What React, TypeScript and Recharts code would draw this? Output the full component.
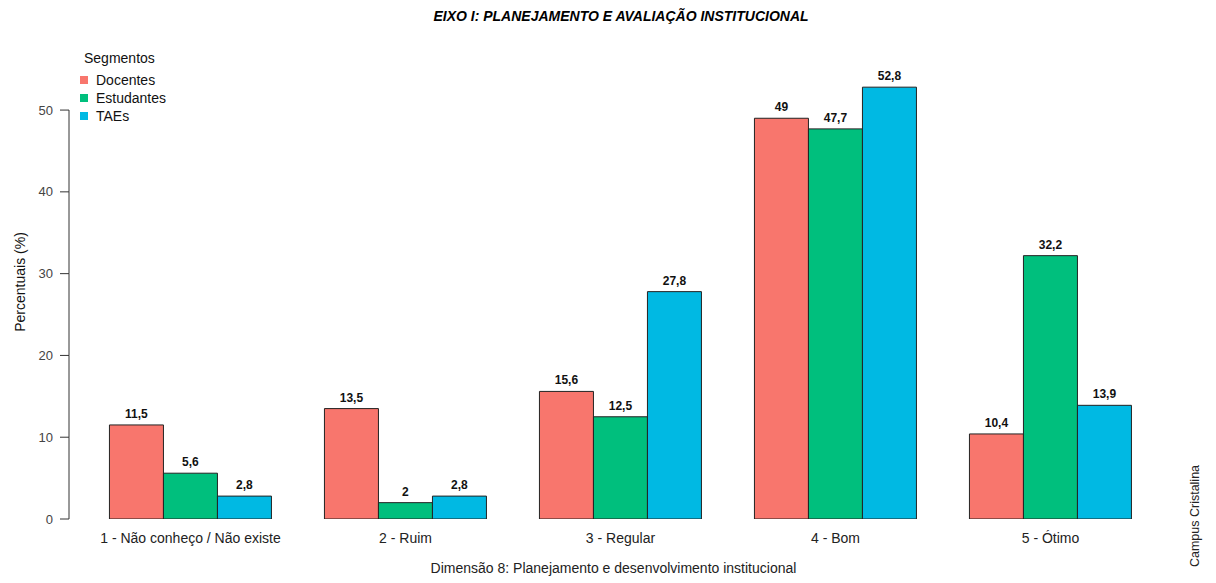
import { BarChart, Bar, XAxis, YAxis, LabelList, Legend } from "recharts";

const categories = [
  "1 - Não conheço / Não existe",
  "2 - Ruim",
  "3 - Regular",
  "4 - Bom",
  "5 - Ótimo",
];
const docentes = [11.5, 13.5, 15.6, 49, 10.4];
const estudantes = [5.6, 2, 12.5, 47.7, 32.2];
const taes = [2.8, 2.8, 27.8, 52.8, 13.9];
const yTicks = [0, 10, 20, 30, 40, 50];

const SERIES = [
  { key: "docentes", name: "Docentes", color: "#F8766D" },
  { key: "estudantes", name: "Estudantes", color: "#00BF7D" },
  { key: "taes", name: "TAEs", color: "#00B9E3" },
];

const data = categories.map((c, i) => ({
  categoria: c,
  docentes: docentes[i],
  estudantes: estudantes[i],
  taes: taes[i],
}));

const W = 1216;
const H = 583;
const TOP = 61;
const BOTTOM = 519;
const AXIS_X = 69;
const Y_MAX = 56;
const STEP_PX = ((BOTTOM - TOP) * 10) / Y_MAX;
const FONT = "'Liberation Sans', Arial, sans-serif";

const fmt = (v: any) => String(v).replace(".", ",");

// R-style axis: line only spans from the first to the last tick
function YTick(props: any) {
  const { x, y, payload } = props;
  return (
    <g>
      <text x={x} y={y} dy="0.35em" textAnchor="end" fontSize={13} fill="#444" fontFamily={FONT}>
        {payload.value}
      </text>
      {payload.value < 50 && (
        <line x1={AXIS_X} x2={AXIS_X} y1={y} y2={y - STEP_PX} stroke="#333" />
      )}
    </g>
  );
}

function YTitle(props: any) {
  const { viewBox } = props;
  const cx = 20;
  const cy = viewBox.y + viewBox.height / 2 - 8;
  return (
    <text
      x={cx}
      y={cy}
      dy="0.35em"
      textAnchor="middle"
      transform={`rotate(-90, ${cx}, ${cy})`}
      fontSize={14}
      fill="#111"
      fontFamily={FONT}
    >
      Percentuais (%)
    </text>
  );
}

function SegLegend() {
  return (
    <div style={{ fontFamily: FONT, fontSize: 14, color: "#111", lineHeight: "18px" }}>
      <div style={{ marginLeft: 4, marginBottom: 4 }}>Segmentos</div>
      {SERIES.map((s) => (
        <div key={s.key} style={{ display: "flex", alignItems: "center" }}>
          <span style={{ width: 8, height: 8, background: s.color, display: "inline-block", marginRight: 8 }} />
          {s.name}
        </div>
      ))}
    </div>
  );
}

export default function App() {
  return (
    <div style={{ position: "absolute", left: 0, top: 0, width: W, height: H, background: "#fff", fontFamily: FONT }}>
      <div
        style={{
          position: "absolute", top: 8, left: 0, width: 1242, textAlign: "center",
          fontSize: 14, fontWeight: "bold", fontStyle: "italic", color: "#000",
        }}
      >
        EIXO I: PLANEJAMENTO E AVALIAÇÃO INSTITUCIONAL
      </div>
      <div
        style={{
          position: "absolute", left: 1195, top: 516, fontSize: 12.5, color: "#222",
          transform: "translate(-50%, -50%) rotate(-90deg)", whiteSpace: "nowrap",
        }}
      >
        Campus Cristalina
      </div>
      <BarChart
        width={W}
        height={H}
        data={data}
        margin={{ top: TOP, right: W - 1158, bottom: H - BOTTOM - 30, left: 0 }}
        barCategoryGap="12.3%"
        barGap={0}
      >
        <XAxis
          dataKey="categoria"
          height={30}
          axisLine={false}
          tickLine={false}
          tickMargin={8}
          padding={{ left: 14, right: 0 }}
          tick={{ fontSize: 14, fill: "#222", fontFamily: FONT }}
          label={{
            value: "Dimensão 8: Planejamento e desenvolvimento institucional",
            position: "bottom",
            offset: 14,
            style: { fontSize: 14, fill: "#222", fontFamily: FONT },
          }}
        />
        <YAxis
          width={AXIS_X}
          domain={[0, Y_MAX]}
          ticks={yTicks}
          allowDataOverflow
          axisLine={false}
          tickLine={{ stroke: "#333" }}
          tickSize={9}
          tickMargin={7}
          tick={<YTick />}
          label={<YTitle />}
        />
        <Legend
          layout="horizontal"
          verticalAlign="middle"
          align="center"
          content={<SegLegend />}
          wrapperStyle={{ position: "absolute", left: 80, top: 49, width: "auto", height: "auto" }}
        />
        {SERIES.map((s) => (
          <Bar key={s.key} dataKey={s.key} name={s.name} fill={s.color} stroke="#222" strokeWidth={1} isAnimationActive={false}>
            <LabelList
              dataKey={s.key}
              position="top"
              offset={7}
              formatter={fmt}
              style={{ fontSize: 12, fontWeight: "bold", fill: "#111", fontFamily: FONT }}
            />
          </Bar>
        ))}
      </BarChart>
    </div>
  );
}
